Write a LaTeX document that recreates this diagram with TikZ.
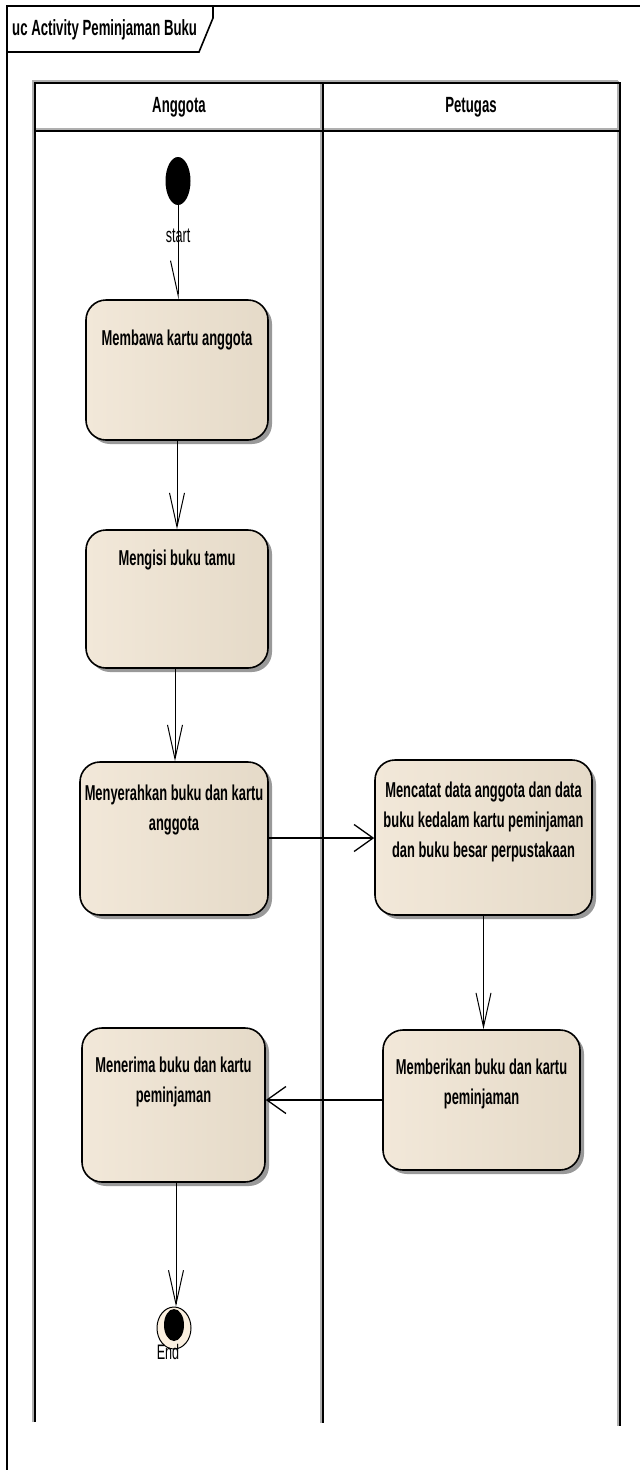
\documentclass[tikz,border=0pt]{standalone}
\usepackage{fontspec}
\newfontfamily\eafont[FakeStretch=0.6]{Liberation Sans}
\usetikzlibrary{arrows.meta,shadows,shapes.geometric}

\definecolor{actleft}{RGB}{242,232,217}
\definecolor{actmid}{RGB}{251,240,224}
\definecolor{actright}{RGB}{229,218,200}
\definecolor{laneshade}{RGB}{175,175,175}

\tikzset{
  activity/.style={draw=black, line width=1.6pt, rounded corners=20pt,
    left color=actleft, middle color=actmid, right color=actright,
    drop shadow={shadow xshift=4pt, shadow yshift=-4pt, fill=black!40, opacity=1},
    inner sep=0pt},
  acttext/.style={font=\eafont\bfseries\fontsize{21.5}{30}\selectfont,
    align=center, anchor=north, inner sep=0pt},
  headtext/.style={font=\eafont\bfseries\fontsize{22}{26}\selectfont, inner sep=0pt},
  smalltext/.style={font=\eafont\fontsize{21}{24}\selectfont, inner sep=0pt},
  vflow/.style={draw=black, line width=1pt,
    -{Straight Barb[length=34pt, width=15pt, line width=1pt]}},
  halfflow/.style={draw=black, line width=1pt,
    -{Straight Barb[harpoon, swap, length=34pt, width=15pt, line width=1pt]}},
  hflow/.style={draw=black, line width=1.3pt,
    -{Straight Barb[length=19pt, width=27pt, line width=1.3pt]}},
  laneline/.style={draw=black, line width=1.8pt},
  laneshadow/.style={draw=laneshade, line width=1.4pt},
}

\begin{document}
\begin{tikzpicture}[x=1pt, y=-1pt]
  \useasboundingbox (0,0) rectangle (640,1470);

  % diagram frame and name tab
  \draw[line width=1.8pt] (7,1470) -- (7,6) -- (640,6);
  \draw[line width=1.6pt] (7,52) -- (199,52) -- (213,18) -- (213,6);
  \node[headtext, anchor=west] (title) at (12,30) {uc Activity Peminjaman Buku};

  % swimlanes
  \draw[laneshadow] (33,1422) -- (33,81) -- (618,81);
  \draw[laneshadow] (35,129) -- (618,129);
  \draw[laneshadow] (321,81) -- (321,1423);
  \draw[laneshadow] (618,81) -- (618,1426);
  \draw[laneline] (35,1422) -- (35,83) -- (620,83) -- (620,1426);
  \draw[laneline] (35,131) -- (620,131);
  \draw[laneline] (323,83) -- (323,1423);
  \node[headtext] (laneA) at (179,107) {Anggota};
  \node[headtext] (laneP) at (471,107) {Petugas};

  % initial node
  \node[ellipse, fill=black, minimum width=25pt, minimum height=48pt, inner sep=0pt] (start) at (178,181) {};
  \node[smalltext] (startlbl) at (178,236) {start};

  % activities
  \node[activity, minimum width=182pt, minimum height=140pt] (b1) at (177,370) {};
  \node[acttext] (t1) at (177,330) {Membawa kartu anggota};

  \node[activity, minimum width=182pt, minimum height=138pt] (b2) at (177,599) {};
  \node[acttext] (t2) at (177,550) {Mengisi buku tamu};

  \node[activity, minimum width=188pt, minimum height=153pt] (b3) at (174,838.5) {};
  \node[acttext] (t3) at (174,785) {Menyerahkan buku dan kartu\\anggota};

  \node[activity, minimum width=217pt, minimum height=155pt] (b4) at (483.5,837.5) {};
  \node[acttext] (t4) at (483.5,782) {Mencatat data anggota dan data\\buku kedalam kartu peminjaman\\dan buku besar perpustakaan};

  \node[activity, minimum width=197pt, minimum height=140pt] (b5) at (481.5,1100) {};
  \node[acttext] (t5) at (481.5,1059) {Memberikan buku dan kartu\\peminjaman};

  \node[activity, minimum width=183pt, minimum height=154pt] (b6) at (173.5,1105) {};
  \node[acttext] (t6) at (173.5,1057) {Menerima buku dan kartu\\peminjaman};

  % final node
  \node[ellipse, draw=black, line width=1pt, fill=actmid, minimum width=34pt, minimum height=42pt, inner sep=0pt] (end) at (174,1328) {};
  \node[ellipse, fill=black, minimum width=20pt, minimum height=32pt, inner sep=0pt] (endcore) at (174,1325) {};
  \node[smalltext] (endlbl) at (168,1352) {End};

  % control flows
  \draw[halfflow] (start.south) -- (b1.north -| start.south);
  \draw[vflow] (b1.south) -- (b2.north);
  \draw[vflow] (b2.south -| 175,0) -- (b3.north -| 175,0);
  \draw[hflow] (b3.east |- 0,838) -- (b4.west |- 0,838);
  \draw[vflow] (b4.south) -- (b5.north -| b4.south);
  \draw[hflow] (b5.west) -- (b5.west -| b6.east);
  \draw[vflow] (b6.south -| 176,0) -- (end.north -| 176,0);
\end{tikzpicture}
\end{document}
